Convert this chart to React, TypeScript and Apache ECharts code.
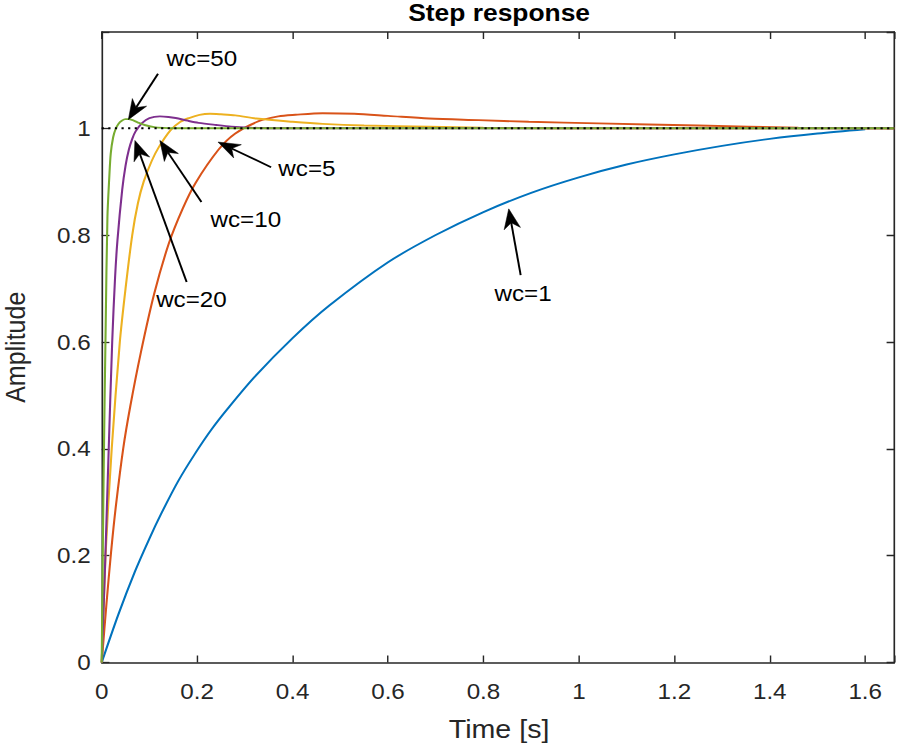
import React, { useEffect, useRef } from 'react';
import * as echarts from 'echarts';

// ---- data ----
const timeWc1 = [0, 0.035, 0.07, 0.1, 0.125, 0.16, 0.195, 0.23, 0.265, 0.32, 0.4, 0.477, 0.6, 0.7, 0.8, 0.9, 1.0, 1.1, 1.2, 1.3, 1.4, 1.5, 1.6];
const ampWc1 = [0, 0.09, 0.171, 0.232, 0.279, 0.339, 0.39, 0.436, 0.476, 0.534, 0.607, 0.668, 0.749, 0.8, 0.843, 0.879, 0.908, 0.932, 0.951, 0.967, 0.98, 0.99, 0.998];

const timeWc5 = [0, 0.01, 0.02, 0.03, 0.045, 0.06, 0.082, 0.11, 0.141, 0.17, 0.197, 0.245, 0.28, 0.329, 0.37, 0.406, 0.463, 0.529, 0.6, 0.686, 0.79, 0.895, 1.041, 1.25, 1.46, 1.6, 1.661];
const ampWc5 = [0, 0.11, 0.21, 0.295, 0.4, 0.48, 0.58, 0.69, 0.785, 0.85, 0.898, 0.96, 0.99, 1.013, 1.022, 1.025, 1.028, 1.027, 1.023, 1.018, 1.015, 1.012, 1.009, 1.005, 1.001, 1.0, 1.0];

const timeWc10 = [0, 0.008, 0.021, 0.038, 0.05, 0.064, 0.076, 0.088, 0.105, 0.12, 0.144, 0.165, 0.183, 0.205, 0.227, 0.25, 0.28, 0.324, 0.4, 0.463, 0.55, 0.686, 0.8, 0.95, 1.661];
const ampWc10 = [0, 0.2, 0.4, 0.6, 0.7, 0.8, 0.86, 0.9, 0.939, 0.965, 0.996, 1.012, 1.019, 1.025, 1.027, 1.026, 1.024, 1.018, 1.012, 1.008, 1.005, 1.003, 1.001, 1.0, 1.0];

const timeWc20 = [0, 0.007, 0.014, 0.022, 0.028, 0.033, 0.043, 0.05, 0.057, 0.064, 0.071, 0.085, 0.1, 0.122, 0.14, 0.155, 0.18, 0.203, 0.24, 0.272, 0.31, 0.35, 0.45, 1.661];
const ampWc20 = [0, 0.18, 0.38, 0.6, 0.72, 0.79, 0.885, 0.93, 0.96, 0.98, 0.994, 1.01, 1.019, 1.022, 1.021, 1.019, 1.014, 1.01, 1.006, 1.003, 1.001, 1.0, 1.0, 1.0];

const timeWc50 = [0, 0.004, 0.0084, 0.012, 0.016, 0.019, 0.024, 0.029, 0.035, 0.042, 0.05, 0.056, 0.065, 0.075, 0.09, 0.11, 0.13, 0.15, 0.2, 1.661];
const ampWc50 = [0, 0.35, 0.633, 0.833, 0.91, 0.953, 0.983, 0.998, 1.008, 1.014, 1.017, 1.017, 1.015, 1.011, 1.006, 1.002, 1.0005, 1.0, 1.0, 1.0];

const seriesNames = ['wc=1', 'wc=5', 'wc=10', 'wc=20', 'wc=50'];
const seriesTimes = [timeWc1, timeWc5, timeWc10, timeWc20, timeWc50];
const seriesAmps = [ampWc1, ampWc5, ampWc10, ampWc20, ampWc50];
const seriesColors = ['#0072BD', '#D95319', '#EDB120', '#7E2F8E', '#77AC30'];

const referenceTime = [0, 1.661];
const referenceAmp = [1, 1];

// annotations: arrow tail, arrow head, label centre (data coordinates)
const annotationLabels = ['wc=50', 'wc=5', 'wc=10', 'wc=20', 'wc=1'];
const annotationTailX = [0.118, 0.355, 0.209, 0.178, 0.878];
const annotationTailY = [1.102, 0.927, 0.862, 0.712, 0.725];
const annotationHeadX = [0.0558, 0.2437, 0.1218, 0.0696, 0.853];
const annotationHeadY = [1.016, 0.974, 0.977, 0.977, 0.849];
const annotationTextX = [0.21, 0.43, 0.302, 0.188, 0.883];
const annotationTextY = [1.13, 0.924, 0.829, 0.68, 0.691];

const X_MIN = 0;
const X_MAX = 1.661;
const X_STEP = 0.2;
const Y_MIN = 0;
const Y_MAX = 1.18;
const Y_STEP = 0.2;

const TITLE = 'Step response';
const X_NAME = 'Time [s]';
const Y_NAME = 'Amplitude';

// ---- layout ----
const W = 898;
const H = 751;
const STRETCH = 1.1;
const IW = W / STRETCH;
const PLOT_LEFT = 101.7 / STRETCH;
const PLOT_RIGHT = 896.5 / STRETCH;
const PLOT_TOP = 32;
const PLOT_BOTTOM = 662.5;
const FONT = '"Liberation Sans", Arial, Helvetica, sans-serif';
const AXIS_COLOR = '#262626';

const tickFormatter = (step: number) => (v: number) => {
  const r = Math.round(v / step);
  if (Math.abs(v - r * step) > 1e-6) return '';
  return String(+(r * step).toFixed(2));
};

function buildOption(): any {
  const axisLine = { show: true, onZero: false, lineStyle: { color: AXIS_COLOR, width: 1.5 } };
  const axisTick = { show: true, inside: true, length: 7, lineStyle: { color: AXIS_COLOR, width: 1.3 } };
  const labelStyle = { color: AXIS_COLOR, fontSize: 22, fontFamily: FONT, lineHeight: 22 };

  const lines = seriesNames.map((name, i) => ({
    type: 'line',
    name,
    data: seriesTimes[i].map((t, j) => [t, seriesAmps[i][j]]),
    showSymbol: false,
    symbol: 'none',
    smooth: 0.3,
    clip: true,
    lineStyle: { color: seriesColors[i], width: 1.9 },
    itemStyle: { color: seriesColors[i] },
    z: 2,
  }));

  const reference = {
    type: 'line',
    name: 'reference',
    data: referenceTime.map((t, j) => [t, referenceAmp[j]]),
    showSymbol: false,
    symbol: 'none',
    lineStyle: { color: '#000', width: 1.9, type: [2, 4] },
    z: 3,
  };

  const annoData = annotationLabels.map((_, i) => [
    annotationTailX[i], annotationTailY[i], annotationHeadX[i], annotationHeadY[i], annotationTextX[i], annotationTextY[i],
  ]);

  const annotations = {
    type: 'custom',
    name: 'annotations',
    data: annoData,
    silent: true,
    clip: false,
    z: 5,
    renderItem: (params: any, api: any) => {
      const tail = api.coord([api.value(0), api.value(1)]);
      const head = api.coord([api.value(2), api.value(3)]);
      const txt = api.coord([api.value(4), api.value(5)]);
      const dx = head[0] - tail[0];
      const dy = head[1] - tail[1];
      const len = Math.hypot(dx, dy) || 1;
      const ux = dx / len;
      const uy = dy / len;
      const nx = -uy;
      const ny = ux;
      const L = 20;
      const HW = 7.5;
      const notch = 0.7;
      const bx = head[0] - ux * L;
      const by = head[1] - uy * L;
      const p1 = [bx + nx * HW, by + ny * HW];
      const p2 = [head[0] - ux * L * notch, head[1] - uy * L * notch];
      const p3 = [bx - nx * HW, by - ny * HW];
      return {
        type: 'group',
        children: [
          { type: 'line', shape: { x1: tail[0], y1: tail[1], x2: p2[0], y2: p2[1] }, style: { stroke: '#000', lineWidth: 1.8 } },
          { type: 'polygon', shape: { points: [head, p1, p2, p3] }, style: { fill: '#000', stroke: '#000', lineWidth: 0.5 } },
          {
            type: 'text',
            x: txt[0],
            y: txt[1],
            style: {
              text: annotationLabels[params.dataIndex],
              fontSize: 22,
              fontFamily: FONT,
              fill: '#000',
              align: 'center',
              verticalAlign: 'middle',
              textAlign: 'center',
              textVerticalAlign: 'middle',
            },
          },
        ],
      };
    },
  };

  const plotCx = (PLOT_LEFT + PLOT_RIGHT) / 2;

  return {
    animation: false,
    backgroundColor: '#ffffff',
    grid: { left: PLOT_LEFT, right: IW - PLOT_RIGHT, top: PLOT_TOP, bottom: H - PLOT_BOTTOM, containLabel: false },
    xAxis: [
      {
        type: 'value', min: X_MIN, max: X_MAX, interval: X_STEP, position: 'bottom',
        axisLine, axisTick, splitLine: { show: false },
        axisLabel: { ...labelStyle, margin: 18, formatter: tickFormatter(X_STEP) },
      },
      {
        type: 'value', min: X_MIN, max: X_MAX, interval: X_STEP, position: 'top',
        axisLine, axisTick, splitLine: { show: false }, axisLabel: { show: false },
      },
    ],
    yAxis: [
      {
        type: 'value', min: Y_MIN, max: Y_MAX, interval: Y_STEP, position: 'left',
        axisLine, axisTick, splitLine: { show: false },
        axisLabel: { ...labelStyle, margin: 10, formatter: tickFormatter(Y_STEP) },
      },
      {
        type: 'value', min: Y_MIN, max: Y_MAX, interval: Y_STEP, position: 'right',
        axisLine, axisTick, splitLine: { show: false }, axisLabel: { show: false },
      },
    ],
    graphic: [
      {
        type: 'text', x: plotCx, y: 12.5,
        style: { text: TITLE, fontSize: 24, lineHeight: 24, fontWeight: 'bold', fontFamily: FONT, fill: '#000', align: 'center', verticalAlign: 'middle', textAlign: 'center', textVerticalAlign: 'middle' },
      },
      {
        type: 'text', x: plotCx, y: 729,
        style: { text: X_NAME, fontSize: 26, lineHeight: 26, fontFamily: FONT, fill: AXIS_COLOR, align: 'center', verticalAlign: 'middle', textAlign: 'center', textVerticalAlign: 'middle' },
      },
      {
        type: 'text', x: 14.5, y: (PLOT_TOP + PLOT_BOTTOM) / 2, rotation: Math.PI / 2,
        style: { text: Y_NAME, fontSize: 25, lineHeight: 24, fontFamily: FONT, fill: AXIS_COLOR, align: 'center', verticalAlign: 'middle', textAlign: 'center', textVerticalAlign: 'middle' },
      },
    ],
    series: [...lines, reference, annotations],
  };
}

export default function App() {
  const ref = useRef<HTMLDivElement>(null);
  useEffect(() => {
    if (!ref.current) return;
    const chart = echarts.init(ref.current, undefined, { renderer: 'svg' });
    chart.setOption(buildOption());
    return () => chart.dispose();
  }, []);
  return (
    <div style={{ position: 'absolute', left: 0, top: 0, width: W, height: H, overflow: 'hidden', background: '#fff' }}>
      <div
        ref={ref}
        style={{ width: IW, height: H, transform: `scaleX(${STRETCH})`, transformOrigin: '0 0' }}
      />
    </div>
  );
}
